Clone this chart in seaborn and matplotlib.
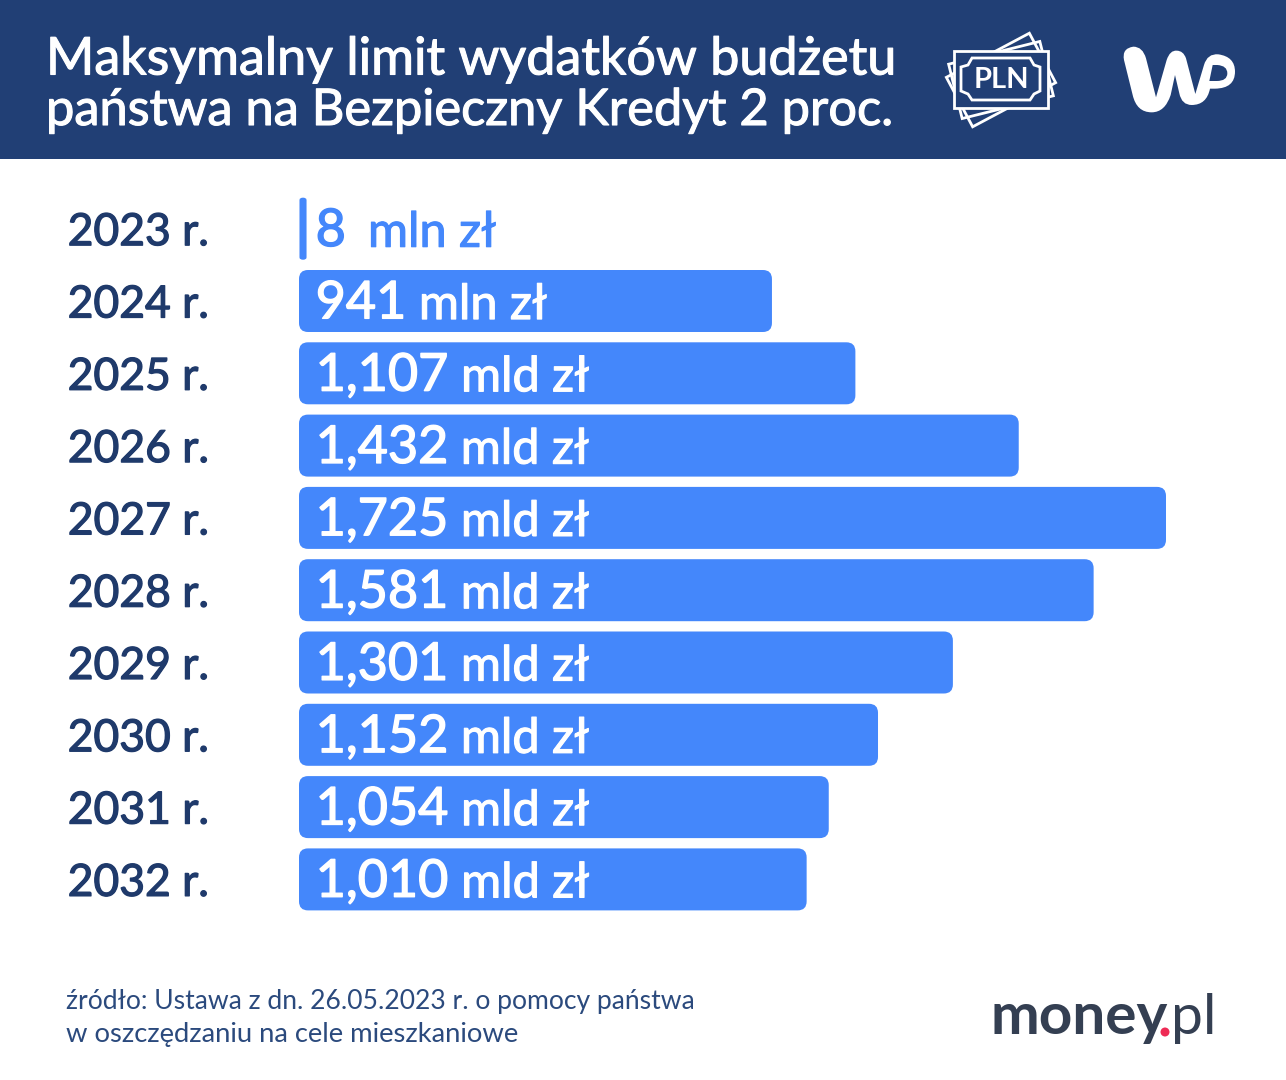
import matplotlib
matplotlib.use("Agg")
import matplotlib.pyplot as plt
import matplotlib.patheffects as pe
import seaborn as sns
import pandas as pd
from matplotlib.patches import FancyBboxPatch, Rectangle, Polygon, Circle, PathPatch
from matplotlib.path import Path
from matplotlib.transforms import Affine2D

years = ["2023 r.", "2024 r.", "2025 r.", "2026 r.", "2027 r.", "2028 r.", "2029 r.", "2030 r.", "2031 r.", "2032 r."]
values_mln = [8, 941, 1107, 1432, 1725, 1581, 1301, 1152, 1054, 1010]
value_numbers = ["8", "941", "1,107", "1,432", "1,725", "1,581", "1,301", "1,152", "1,054", "1,010"]
value_units = ["mln zł", "mln zł", "mld zł", "mld zł", "mld zł", "mld zł", "mld zł", "mld zł", "mld zł", "mld zł"]
title_lines = ["Maksymalny limit wydatków budżetu", "państwa na Bezpieczny Kredyt 2 proc."]
source_lines = ["źródło: Ustawa z dn. 26.05.2023 r. o pomocy państwa", "w oszczędzaniu na cele mieszkaniowe"]

NAVY = "#213F75"
LABEL = "#1F3A6B"
BLUE = "#4487FB"
W, H = 1286, 1080

sns.set_theme(style="white")
plt.rcParams["font.family"] = ["Lato", "DejaVu Sans"]
fig = plt.figure(figsize=(W / 100, H / 100), dpi=100, facecolor="white")


def thick(color, width):
    return [pe.withStroke(linewidth=width, foreground=color)]


ov = fig.add_axes([0, 0, 1, 1], zorder=0)
ov.set_xlim(0, W); ov.set_ylim(H, 0); ov.axis("off")

X0, X1 = 299, 1200
STEP = 72.3
Y0 = 301 - 1.5 * STEP
Y1 = Y0 + 10 * STEP
ax = fig.add_axes([X0 / W, 1 - Y1 / H, (X1 - X0) / W, (Y1 - Y0) / H], zorder=1)
ax.patch.set_alpha(0)
df = pd.DataFrame({"year": years, "value": values_mln})
sns.barplot(data=df, y="year", x="value", orient="h", color=BLUE, saturation=1, width=62 / STEP, ax=ax)
px_per_unit = 867 / 1725
ax.set_xlim(0, (X1 - X0) / px_per_unit)
ax.set_ylim(9.5, -0.5)
sns.despine(ax=ax, left=True, bottom=True)
ax.set_xlabel(""); ax.set_ylabel("")
ax.set_xticks([])
ax.tick_params(axis="y", length=0, pad=64.5, labelsize=32, labelcolor=LABEL)
for t in ax.get_yticklabels():
    t.set_ha("right")
    t.set_path_effects(thick(LABEL, 0.9))

bars = list(ax.patches)
aspect = (1 / STEP) / (1 / px_per_unit)
for bar in bars:
    x, y, w, h = bar.get_x(), bar.get_y(), bar.get_width(), bar.get_height()
    small = w < 30
    if small:
        p = FancyBboxPatch((x + 2 / px_per_unit, y + 1.5 / STEP), w, h - 3 / STEP,
                           boxstyle=f"round,pad=0,rounding_size={w * 0.5}",
                           mutation_aspect=aspect * 0.5, facecolor=BLUE, edgecolor=BLUE,
                           linewidth=2.2, zorder=2, clip_on=False)
    else:
        p = FancyBboxPatch((x, y), w, h, boxstyle=f"round,pad=0,rounding_size={9 / px_per_unit}",
                           mutation_aspect=aspect, facecolor=BLUE, edgecolor="none",
                           linewidth=0, zorder=2, clip_on=False)
    ax.add_patch(p)
    bar.set_visible(False)

fig.canvas.draw()
rend = fig.canvas.get_renderer()
x_origin = ax.transData.transform((0, 0))[0]
for i, (num, unit, val) in enumerate(zip(value_numbers, value_units, values_mln)):
    col = BLUE if val < 30 else "white"
    t1 = ax.annotate(num, (0, i), xytext=(12, -12.5), textcoords="offset points", color=col,
                     fontsize=37.5, va="baseline", ha="left", zorder=3, path_effects=thick(col, 1.0))
    ext = t1.get_window_extent(rend)
    off = (ext.x1 - x_origin) * 0.72 + (16 if val < 30 else 9)
    ax.annotate(unit, (0, i), xytext=(off, -13), textcoords="offset points", color=col,
                fontsize=35, va="baseline", ha="left", zorder=3, path_effects=thick(col, 0.8))

# header
ov.add_patch(Rectangle((0, 0), W, 158.5, facecolor=NAVY, edgecolor="none"))
for txt, y, fs in zip(title_lines, [60, 111], [37.5, 36.4]):
    ov.text(46, y, txt, color="white", fontsize=fs, va="center", ha="left", path_effects=thick("white", 0.8))

# PLN banknote icon
lw = 2.0
for ang in (-28, -14):
    tr = Affine2D().rotate_deg_around(1001, 80, ang) + ov.transData
    ov.add_patch(Rectangle((954, 52), 94, 56, fill=False, edgecolor="white", lw=lw, transform=tr))
ov.add_patch(Rectangle((954, 51), 94, 57, facecolor=NAVY, edgecolor="white", lw=lw, zorder=3))
ov.add_patch(Polygon([(972, 58), (1030, 58), (1034, 65), (1040, 67), (1040, 91), (1034, 94), (1030, 100),
                      (972, 100), (968, 94), (961, 91), (961, 67), (968, 65)],
                     closed=True, fill=False, edgecolor="white", lw=lw, zorder=4))
ov.text(1001, 80, "PLN", color="white", fontsize=21, ha="center", va="center", fontweight="bold", zorder=5)


# WP logo as one curved outline (coordinates of the 3x zoom view: origin 920,0)
def z(p):
    return (920 + p[0] / 3, p[1] / 3)


M, L, C = Path.MOVETO, Path.LINETO, Path.CURVE3
logo = [
    (M, (612, 180)), (C, (605, 145)), (C, (640, 140)), (C, (668, 140)), (C, (678, 175)),
    (L, (708, 292)), (L, (740, 180)), (C, (750, 150)), (C, (770, 152)), (C, (790, 152)), (C, (798, 175)),
    (L, (826, 282)), (L, (852, 195)), (C, (862, 160)), (C, (895, 163)),
    (C, (945, 170)), (C, (945, 215)), (C, (945, 265)), (C, (885, 266)),
    (L, (870, 266)), (C, (860, 315)), (C, (815, 315)), (C, (785, 315)), (C, (778, 280)),
    (L, (765, 225)), (L, (752, 285)), (C, (735, 337)), (C, (695, 337)), (C, (650, 337)), (C, (638, 285)),
    (L, (612, 180)),
]
codes = [c for c, _ in logo]
verts = [z(p) for _, p in logo]
ov.add_patch(PathPatch(Path(verts, codes), facecolor="white", edgecolor="none", zorder=4))
hole = [(M, (878, 195)), (L, (892, 195)), (C, (922, 197)), (C, (922, 220)), (C, (922, 243)), (C, (890, 243)),
        (L, (868, 243)), (L, (878, 195))]
ov.add_patch(PathPatch(Path([z(p) for _, p in hole], [c for c, _ in hole]), facecolor=NAVY, edgecolor="none", zorder=5))

# footer
for txt, y, fs in zip(source_lines, [1002, 1034.5], [19.1, 19.7]):
    ov.text(66, y, txt, color="#2B4A7D", fontsize=fs, va="center", ha="left")

# money.pl logo
ov.text(991, 1018, "money", color="#343F52", fontsize=42, fontweight="bold", va="center", ha="left", zorder=4)
ov.add_patch(Circle((1165, 1032), 4.5, facecolor="#EE2B55", edgecolor="none", zorder=4))
ov.text(1171, 1018, "pl", color="#343F52", fontsize=41, va="center", ha="left", zorder=4)

fig.savefig("out.png", dpi=100)
